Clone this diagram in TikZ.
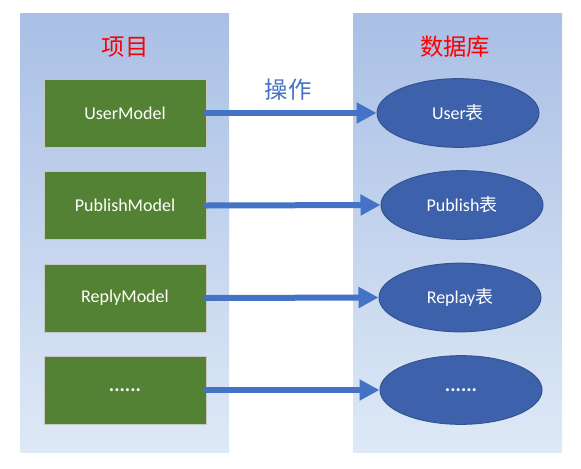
\documentclass[tikz,border=0pt]{standalone}
\usepackage{fontspec}
\setmainfont{Carlito}
\newfontfamily\cjk{Noto Sans CJK SC}
\usetikzlibrary{shapes.geometric, arrows.meta}

\definecolor{paneltop}{HTML}{A9BFE5}
\definecolor{panelbottom}{HTML}{DEE9F6}
\definecolor{modelgreen}{HTML}{548235}
\definecolor{tableblue}{HTML}{3D62AB}
\definecolor{arrowblue}{HTML}{4472C4}

\begin{document}
\begin{tikzpicture}[
        x=0.75pt,
        y=-0.75pt,
        every node/.style={font=\fontsize{13.5}{16}\selectfont, text=white},
        model/.style={draw=gray!45, line width=0.75pt, fill=modelgreen, minimum width=121.5pt, minimum height=51pt, inner sep=0pt},
        dbtable/.style={ellipse, draw=tableblue!85!black, line width=0.75pt, fill=tableblue, minimum width=121.5pt, minimum height=51.5pt, inner sep=0pt},
        title/.style={font=\cjk\fontsize{17.5}{20}\selectfont, text=red},
        dots/.style={font=\bfseries\fontsize{15}{16}\selectfont},
        link/.style={-{Triangle[length=15pt, width=15pt]}, line width=4.5pt, draw=arrowblue, line cap=round}
    ]
    \useasboundingbox (0,0) rectangle (581,468);
    \shade[top color=paneltop, bottom color=panelbottom] (20,13) rectangle (229,452);
    \shade[top color=paneltop, bottom color=panelbottom] (353,13) rectangle (562,452);

    \node[title] (projtitle) at (125,47) {项目};
    \node[title] (dbtitle) at (455,47) {数据库};
    \node[title, text=arrowblue] (oplabel) at (288,90) {操作};

    \node[model] (usermodel) at (125,113) {UserModel};
    \node[model] (publishmodel) at (125,205.5) {PublishModel};
    \node[model] (replymodel) at (125,298) {ReplyModel};
    \node[model, dots] (moremodel) at (125,390) {......};

    \node[dbtable] (usertable) at (458,113) {User{\cjk 表}};
    \node[dbtable] (publishtable) at (462,205) {Publish{\cjk 表}};
    \node[dbtable] (replaytable) at (460,297.5) {Replay{\cjk 表}};
    \node[dbtable, dots] (moretable) at (461,390) {......};

    \draw[link] (usermodel.east) -- (usertable.west);
    \draw[link] (publishmodel.east) -- (publishtable.west);
    \draw[link] (replymodel.east) -- (replaytable.west);
    \draw[link] (moremodel.east) -- (moretable.west);
\end{tikzpicture}
\end{document}
